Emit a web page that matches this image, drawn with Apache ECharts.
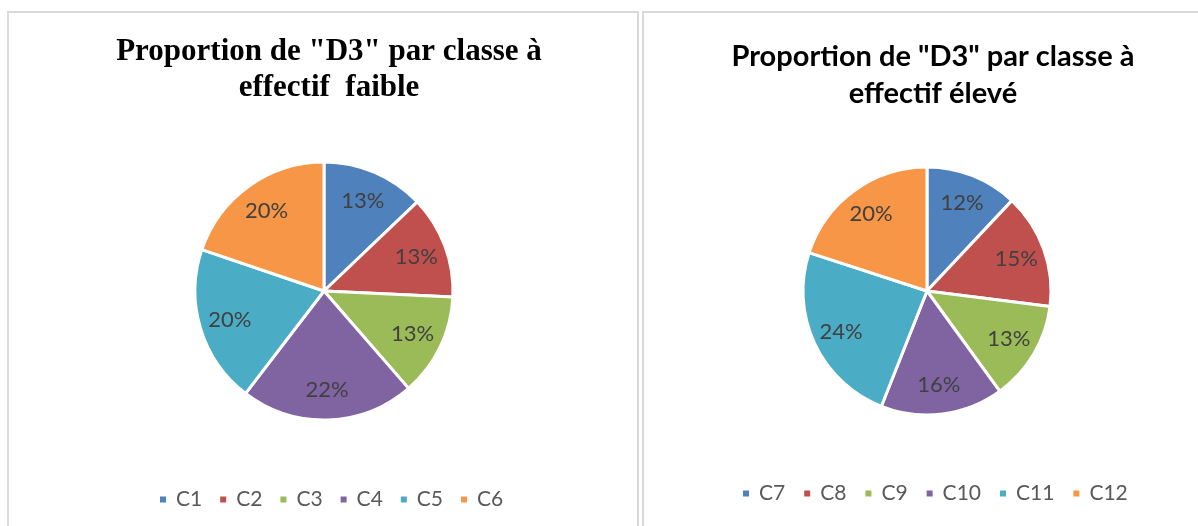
<!DOCTYPE html>
<html>
<head>
<meta charset="utf-8">
<script src="https://cdn.jsdelivr.net/npm/echarts@6/dist/echarts.min.js"></script>
<style>
  html, body { margin: 0; padding: 0; background: #ffffff; }
  #chart { width: 1198px; height: 526px; }
</style>
</head>
<body>
<div id="chart"></div>
<script>
// Classes with a small headcount and their share of "D3" (%)
const classesFaible = ['C1', 'C2', 'C3', 'C4', 'C5', 'C6'];
const valuesFaible = [13, 13, 13, 22, 20, 20];

// Classes with a large headcount and their share of "D3" (%)
const classesEleve = ['C7', 'C8', 'C9', 'C10', 'C11', 'C12'];
const valuesEleve = [12, 15, 13, 16, 24, 20];

const titleFaible = 'Proportion de "D3" par classe à\neffectif  faible';
const titleEleve = 'Proportion de "D3" par classe à\neffectif élevé';

const palette = ['#4F81BD', '#C0504D', '#9BBB59', '#8064A2', '#4BACC6', '#F79646'];

function toData(names, values) {
  return names.map((n, i) => ({ name: n, value: values[i] }));
}

// Slices, drawn with a white gap between them
function pieSlices(names, values, center, r) {
  return {
    type: 'pie',
    center: center,
    radius: [0, r],
    startAngle: 90,
    clockwise: true,
    silent: true,
    animation: false,
    data: toData(names, values),
    itemStyle: { borderColor: '#ffffff', borderWidth: 3 },
    label: { show: false },
    labelLine: { show: false }
  };
}

// Transparent ring that carries the percentage labels out toward the rim
function pieLabels(names, values, center, r) {
  return {
    type: 'pie',
    center: center,
    radius: [Math.round(r * 0.48), r],
    startAngle: 90,
    clockwise: true,
    silent: true,
    animation: false,
    legendHoverLink: false,
    data: toData(names, values),
    itemStyle: { color: 'rgba(0,0,0,0)', borderWidth: 0 },
    label: {
      show: true,
      position: 'inside',
      formatter: p => p.value + '%',
      fontFamily: 'Lato',
      fontSize: 22,
      color: '#404040'
    },
    labelLine: { show: false }
  };
}

const legendText = { fontFamily: 'Lato', fontSize: 21, color: '#595959', padding: [0, 0, 0, 4] };

const chart = echarts.init(document.getElementById('chart'), null, { renderer: 'canvas' });
chart.setOption({
  color: palette,
  animation: false,
  graphic: [
    { type: 'rect', shape: { x: 8, y: 12, width: 630, height: 540 },
      style: { fill: 'none', stroke: '#d9d9d9', lineWidth: 2 }, silent: true },
    { type: 'rect', shape: { x: 643, y: 12, width: 580, height: 540 },
      style: { fill: 'none', stroke: '#d9d9d9', lineWidth: 2 }, silent: true }
  ],
  title: [
    {
      text: titleFaible,
      left: 324, top: 29, textAlign: 'center',
      textStyle: { fontFamily: 'Liberation Serif', fontWeight: 'bold', fontSize: 31, lineHeight: 36, color: '#000000' }
    },
    {
      text: titleEleve,
      left: 928, top: 33, textAlign: 'center',
      textStyle: { fontFamily: 'Lato', fontWeight: 'bold', fontSize: 29, lineHeight: 37, color: '#000000' }
    }
  ],
  legend: [
    {
      data: classesFaible,
      left: 158, top: 489, padding: 0,
      icon: 'rect', itemWidth: 8, itemHeight: 8, itemGap: 16,
      textStyle: legendText,
      selectedMode: false
    },
    {
      data: classesEleve,
      left: 741, top: 483, padding: 0,
      icon: 'rect', itemWidth: 8, itemHeight: 8, itemGap: 17,
      textStyle: legendText,
      selectedMode: false
    }
  ],
  series: [
    pieSlices(classesFaible, valuesFaible, [324, 291], 129),
    pieLabels(classesFaible, valuesFaible, [324, 291], 129),
    pieSlices(classesEleve, valuesEleve, [927, 291], 124),
    pieLabels(classesEleve, valuesEleve, [927, 291], 124)
  ]
});
</script>
</body>
</html>
